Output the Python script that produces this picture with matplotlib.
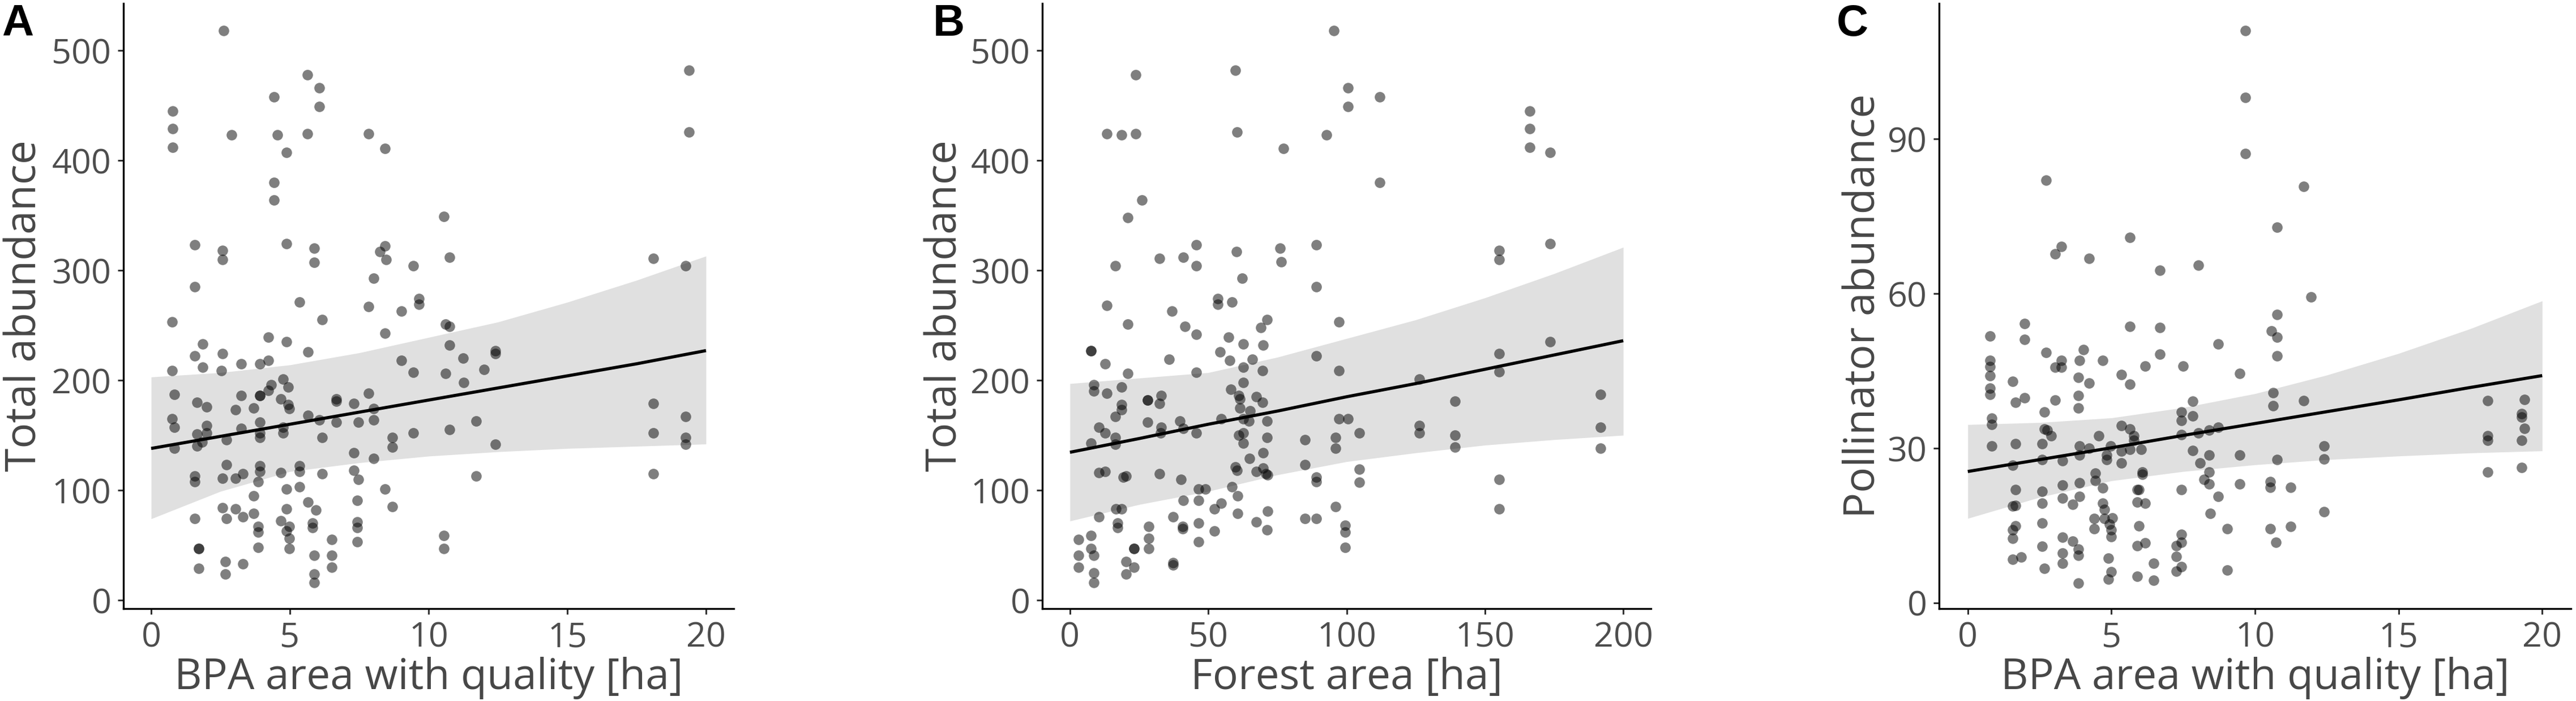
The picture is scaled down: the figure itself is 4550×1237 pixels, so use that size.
import matplotlib
matplotlib.use("Agg")
import matplotlib.pyplot as plt
import numpy as np

# ---------------- DATA ----------------
# Panel A: BPA area with quality [ha] vs Total abundance
a_x = [0.77,0.77,0.77,0.75,0.75,0.75,0.83,0.83,0.83,
       1.57,1.57,1.57,1.66,1.66,1.66,1.57,1.57,1.57,1.72,1.72,1.72,
       1.86,1.86,2.0,2.0,2.0,1.84,
       2.62,2.58,2.58,2.58,2.54,2.72,2.72,2.58,2.58,2.72,2.68,2.68,
       2.9,3.04,3.04,3.04,3.24,3.24,3.24,3.31,3.31,3.31,
       3.7,3.7,3.7,3.86,3.86,3.86,3.86,3.92,3.92,3.92,3.92,3.92,3.92,3.92,3.92,
       4.23,4.23,4.23,4.33,4.43,4.43,4.43,4.55,4.68,4.75,4.75,4.75,4.68,4.68,
       4.88,4.88,4.88,4.93,4.93,4.97,4.88,4.88,4.88,4.97,4.97,4.97,
       5.34,5.34,5.34,5.34,5.63,5.63,5.66,5.66,5.66,5.81,5.81,
       5.88,5.88,5.94,5.88,5.88,5.88,6.07,6.07,6.07,6.16,6.16,6.16,
       6.52,6.52,6.52,6.68,6.68,6.68,7.3,7.3,7.3,7.43,7.43,7.43,7.43,7.46,7.46,
       7.83,7.83,7.83,8.03,8.03,8.03,8.03,8.25,8.43,8.43,8.47,8.43,8.43,
       8.7,8.7,8.7,9.03,9.03,9.45,9.45,9.45,9.65,9.65,
       10.55,10.62,10.62,10.55,10.55,10.75,10.75,10.75,10.75,
       11.24,11.26,11.71,11.71,12.0,12.4,12.4,12.4,
       18.1,18.1,18.1,18.1,19.38,19.38,19.27,19.27,19.27,19.27]
a_y = [445,429,412,253,209,165,187,157,138,
       323,285,222,180,151,140,113,108,74,47,47,29,
       233,212,176,159,152,144,
       518,318,310,224,209,146,123,111,84,74,35,24,
       423,173,111,83,215,186,156,76,115,33,
       175,95,79,108,67,62,48,215,186,186,162,152,148,122,117,
       239,218,191,196,458,380,364,423,183,201,157,152,116,72,
       407,324,235,194,178,174,101,83,63,67,56,47,
       271,122,117,103,478,424,226,168,89,70,66,
       320,307,82,41,24,16,466,449,164,255,148,115,
       55,41,30,183,181,162,179,134,118,91,71,66,53,162,110,
       424,267,188,293,174,164,129,317,411,322,310,243,101,
       148,139,85,263,218,304,207,152,274,269,
       349,251,206,59,47,312,249,232,155,
       220,198,163,113,210,227,224,142,
       311,179,152,115,482,426,304,167,148,142]

# Panel B: Forest area [ha] vs Total abundance
b_x = [3.0,3.0,3.0,7.5,7.5,7.7,7.7,7.7,8.6,8.6,8.6,8.6,8.6,
       10.4,10.4,10.4,12.7,12.7,13.3,13.3,13.3,12.7,
       16.3,16.3,16.3,16.3,16.7,17.3,17.3,18.6,18.6,18.6,18.6,19.2,18.6,
       20.2,20.2,21.0,21.0,21.0,20.2,23.1,23.1,23.1,23.7,23.7,26.0,
       28.0,28.0,28.0,28.4,28.4,28.4,
       32.3,32.3,32.9,32.7,32.9,32.3,35.8,36.8,37.2,37.2,37.2,
       39.7,40.1,40.7,40.7,41.0,41.0,41.6,41.0,
       45.7,45.7,45.7,45.7,45.7,46.5,46.5,46.5,46.5,49.0,
       52.2,52.2,53.5,53.5,54.3,54.7,54.7,57.4,57.8,58.2,58.6,58.6,
       59.8,60.4,60.2,59.8,60.4,60.6,60.6,61.1,61.1,61.5,61.5,
       62.3,62.7,62.7,62.7,62.7,62.7,62.7,64.6,65.0,65.2,66.0,
       67.4,67.4,67.4,69.0,69.9,69.6,69.6,69.9,69.9,70.9,
       71.3,71.3,71.3,71.5,71.5,71.3,
       76.0,76.4,77.1,85.0,85.0,85.0,89.0,89.0,89.0,89.0,89.0,89.0,
       92.7,95.3,96.0,96.0,96.0,97.2,97.2,97.2,99.4,99.4,99.4,
       100.5,100.5,100.5,104.6,104.6,104.6,111.9,111.9,
       126.3,126.3,126.3,139.2,139.2,139.2,
       155.2,155.2,155.2,155.2,155.2,155.2,
       166.3,166.3,166.3,173.6,173.6,173.6,191.7,191.7,191.7]
b_y = [55,41,30,59,47,227,227,143,196,190,41,25,16,
       157,116,76,152,215,268,424,188,117,
       304,167,148,142,83,70,66,423,194,178,173,112,83,
       35,24,348,251,206,113,47,47,30,478,424,364,
       182,182,162,67,56,47,
       311,179,186,152,157,115,219,263,34,32,76,
       163,110,67,65,312,156,249,91,
       323,304,242,207,152,101,70,53,91,101,
       63,83,274,269,226,165,88,239,218,192,271,103,
       482,426,317,121,118,95,79,186,150,183,175,
       293,233,212,198,165,152,143,163,129,172,219,
       185,117,71,248,232,209,180,134,120,115,
       255,163,148,114,81,64,
       320,308,411,146,123,74,285,323,222,112,108,74,
       423,518,85,148,138,253,209,165,68,62,48,
       466,449,165,152,119,107,458,380,
       201,159,152,181,150,139,
       318,310,224,208,110,83,
       445,429,412,407,324,235,187,157,138]

# Panel C: BPA area with quality [ha] vs Pollinator abundance
c_x = [0.77,0.77,0.77,0.77,0.77,0.77,0.84,0.84,0.84,
       1.56,1.67,1.67,1.56,1.67,1.56,1.67,1.67,1.56,1.56,1.56,1.85,
       1.97,1.97,1.97,
       2.73,2.73,2.67,2.67,2.58,2.58,2.58,2.58,2.58,2.58,2.67,2.76,2.91,
       3.05,3.25,3.05,3.25,3.25,3.05,3.3,3.3,3.3,3.3,3.3,3.3,3.65,3.65,
       3.85,3.85,3.85,3.89,4.02,3.89,3.89,3.89,3.89,3.85,3.85,3.85,
       4.22,4.22,4.22,4.44,4.44,4.4,4.4,4.56,4.69,4.69,4.69,4.76,4.76,
       4.83,4.83,4.89,4.89,4.94,4.98,4.99,4.99,4.99,5.04,
       5.35,5.35,5.35,5.35,5.64,5.64,5.64,5.64,5.64,5.78,5.78,
       5.89,5.95,5.89,5.95,5.89,5.89,6.04,6.08,6.08,6.17,6.17,6.17,
       6.48,6.48,6.68,6.68,6.68,
       7.26,7.26,7.26,7.44,7.44,7.44,7.44,7.44,7.44,7.44,7.5,
       7.84,7.84,7.84,8.02,8.02,8.08,8.23,8.41,8.41,8.41,8.45,8.41,
       8.72,8.72,8.72,9.03,9.03,9.47,9.47,9.47,9.67,9.67,9.67,
       10.57,10.63,10.63,10.54,10.54,10.54,10.77,10.77,10.77,10.77,10.77,10.72,
       11.24,11.24,11.69,11.69,11.96,12.4,12.4,12.4,
       18.1,18.1,18.1,18.1,19.28,19.28,19.39,19.39,19.28,19.28]
c_y = [51.8,47.0,45.8,44.1,41.7,40.4,35.8,34.6,30.5,
       43.0,38.9,30.9,26.7,22.0,18.8,18.9,15.0,14.2,12.5,8.5,8.9,
       54.2,51.1,39.8,
       82.0,48.6,37.0,33.8,30.9,27.8,21.7,19.4,15.5,11.0,6.7,33.5,32.4,
       67.7,69.1,45.7,47.1,45.7,39.3,27.6,22.9,20.3,12.7,9.7,7.7,19.1,12.0,
       43.7,40.2,37.8,47.1,49.1,30.4,28.7,23.3,20.7,10.4,9.2,3.9,
       66.8,42.6,30.0,25.2,23.7,16.4,14.4,32.4,47.1,22.3,19.4,18.1,16.4,
       28.7,27.8,8.7,4.6,15.3,30.5,14.2,12.9,6.1,16.5,
       44.3,34.4,27.2,29.5,70.9,53.6,42.4,33.7,29.8,32.4,31.5,
       22.0,22.0,19.6,14.9,11.1,5.2,29.8,25.4,25.0,46.0,19.4,11.6,
       7.7,4.4,64.5,53.4,48.3,
       11.1,9.0,6.2,13.3,11.8,7.0,37.0,35.4,32.7,22.0,46.0,
       39.1,36.3,29.6,65.5,33.0,27.2,24.0,28.7,25.4,23.1,17.4,33.5,
       50.2,34.1,20.7,14.4,6.4,44.5,28.7,23.1,111.0,98.1,87.2,
       52.8,40.8,38.3,23.5,22.4,14.4,72.9,56.0,51.6,47.9,27.8,11.8,
       22.4,14.8,80.8,39.2,59.4,30.4,27.9,17.7,
       39.2,32.4,31.5,25.4,36.7,36.1,39.5,33.9,31.5,26.3]

# Fitted lines and confidence bands
a_fit_x = [0, 2.5, 5, 7.5, 10, 12.5, 15, 17.5, 20]
a_fit = [138, 149, 160, 171, 182, 193, 204, 215, 227]
a_lo = [74, 99, 117, 125, 131, 135, 138, 140, 142]
a_hi = [203, 207, 214, 225, 239, 253, 271, 291, 313]

b_fit_x = [0, 25, 50, 75, 100, 125, 150, 175, 200]
b_fit = [134.5, 147, 160, 172, 185, 197, 210, 223, 236]
b_lo = [72, 87, 99, 114, 126, 134, 141, 146, 150]
b_hi = [197, 202, 207, 221, 238, 255, 275, 297, 321]

c_fit_x = [0, 2.5, 5, 7.5, 10, 12.5, 15, 17.5, 20]
c_fit = [25.5, 27.8, 30.1, 32.5, 34.8, 37.1, 39.4, 41.8, 44.1]
c_lo = [16.4, 20.5, 23.7, 25.5, 26.8, 27.8, 28.5, 29.1, 29.5]
c_hi = [34.6, 35.0, 35.9, 37.9, 40.6, 44.2, 48.4, 53.2, 58.6]

ab_yticks = [0, 100, 200, 300, 400, 500]
c_yticks = [0, 30, 60, 90]
bpa_xticks = [0, 5, 10, 15, 20]
forest_xticks = [0, 50, 100, 150, 200]

# ---------------- LAYOUT ----------------
W, H = 4550, 1237
DPI = 100
fig = plt.figure(figsize=(W / DPI, H / DPI), dpi=DPI)
fig.patch.set_facecolor("white")

TICK_COL = "#4D4D4D"
TITLE_COL = "#474747"
FONT = ["Open Sans", "DejaVu Sans"]

# title font size chosen so that the A x-title spans ~899 px
renderer = fig.canvas.get_renderer()
_probe = fig.text(0, 0, "BPA area with quality [ha]", fontsize=53, family=FONT)
_w = _probe.get_window_extent(renderer).width
TITLE_SIZE = 53 * 899.0 / _w
_probe.remove()

def px_axes(l, r, t, b):
    return fig.add_axes([l / W, 1 - b / H, (r - l) / W, (b - t) / H])

def panel(ax, x, y, fx, fit, lo, hi, xlim, ylim, xt, yt, xlabel, ylabel,
          ylab_x, letter, letter_x):
    ax.fill_between(fx, lo, hi, color="#999999", alpha=0.3, linewidth=0, zorder=1)
    ax.scatter(x, y, s=180, color="black", alpha=0.5, linewidths=0, zorder=2)
    ax.plot(fx, fit, color="black", lw=4.0, zorder=3, solid_capstyle="butt")
    ax.set_xlim(*xlim)
    ax.set_ylim(*ylim)
    ax.set_xticks(xt)
    ax.set_yticks(yt)
    for s in ["top", "right"]:
        ax.spines[s].set_visible(False)
    for s in ["left", "bottom"]:
        ax.spines[s].set_linewidth(2.4)
        ax.spines[s].set_color("black")
    ax.tick_params(axis="both", length=7.5, width=2.2, color="#333333",
                   labelcolor=TICK_COL, labelsize=44, pad=8)
    for lab in ax.get_xticklabels() + ax.get_yticklabels():
        lab.set_fontfamily(FONT)
    bb = ax.get_position()
    cx = (bb.x0 + bb.x1) / 2
    fig.text(cx, 1 - 1216 / H, xlabel, ha="center", va="baseline",
             fontsize=TITLE_SIZE, color=TITLE_COL, family=FONT)
    cy = (bb.y0 + bb.y1) / 2
    fig.text(ylab_x / W, cy, ylabel, rotation=90, rotation_mode="anchor",
             ha="center", va="baseline", fontsize=TITLE_SIZE, color=TITLE_COL,
             family=FONT)
    fig.text(letter_x / W, 1 - 63 / H, letter, ha="left", va="baseline",
             fontsize=56, fontweight="bold", color="black",
             family=["Liberation Sans", "DejaVu Sans"])

axA = px_axes(218, 1296, 6, 1074)
panel(axA, a_x, a_y, a_fit_x, a_fit, a_lo, a_hi, (-1, 21), (-7.7, 542.8),
      bpa_xticks, ab_yticks, "BPA area with quality [ha]", "Total abundance",
      64, "A", 3)

axB = px_axes(1841, 2916, 6, 1074)
panel(axB, b_x, b_y, b_fit_x, b_fit, b_lo, b_hi, (-10, 210), (-7.7, 542.8),
      forest_xticks, ab_yticks, "Forest area [ha]", "Total abundance",
      1690, "B", 1648)

axC = px_axes(3425, 4541, 6, 1074)
panel(axC, c_x, c_y, c_fit_x, c_fit, c_lo, c_hi, (-1, 21), (-1.1, 116.3),
      bpa_xticks, c_yticks, "BPA area with quality [ha]", "Pollinator abundance",
      3312, "C", 3244)

fig.savefig("out.png", dpi=DPI, facecolor="white")
